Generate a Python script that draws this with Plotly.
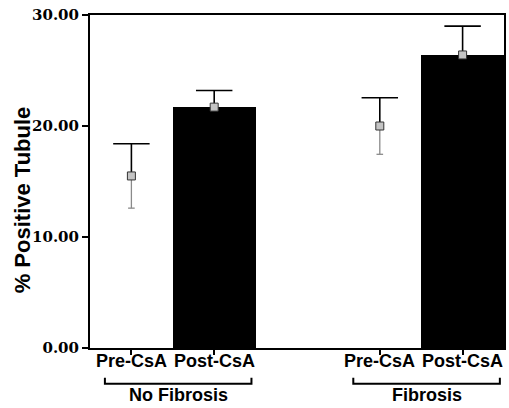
import plotly.graph_objects as go

groups = ["No Fibrosis", "Fibrosis"]
conditions = ["Pre-CsA", "Post-CsA"]
means = [15.5, 21.7, 20.0, 26.4]
errors = [2.9, 1.5, 2.55, 2.6]
bar_colors = ["white", "black", "white", "black"]
y_ticks = [0, 10, 20, 30]

positions = []
labels = []
for gi, g in enumerate(groups):
    for ci, c in enumerate(conditions):
        positions.append(gi * 3 + ci)
        labels.append(c)

fig = go.Figure()
fig.add_trace(go.Bar(
    x=positions, y=means, width=1.0,
    marker=dict(color=bar_colors, line=dict(width=0)),
    showlegend=False, hoverinfo="skip",
))

# upper error bars (black, wide caps)
ux, uy = [], []
cap = 0.22
for p, m, e in zip(positions, means, errors):
    ux += [p, p, None, p - cap, p + cap, None]
    uy += [m, m + e, None, m + e, m + e, None]
fig.add_trace(go.Scatter(x=ux, y=uy, mode="lines",
                         line=dict(color="black", width=1.6),
                         showlegend=False, hoverinfo="skip"))

# lower error bars visible only on white bars (gray, small caps)
lx, ly = [], []
lcap = 0.04
for p, m, e, c in zip(positions, means, errors, bar_colors):
    if c == "white":
        lx += [p, p, None, p - lcap, p + lcap, None]
        ly += [m, m - e, None, m - e, m - e, None]
fig.add_trace(go.Scatter(x=lx, y=ly, mode="lines",
                         line=dict(color="#8a8a8a", width=1.3),
                         showlegend=False, hoverinfo="skip"))

fig.add_trace(go.Scatter(
    x=positions, y=means, mode="markers",
    marker=dict(symbol="square", size=8, color="#c4c4c4",
                line=dict(color="#333333", width=1)),
    showlegend=False,
))

axis_font = dict(family="DejaVu Serif", size=15, color="black", weight="bold")
fig.update_layout(
    width=509, height=408,
    margin=dict(l=90, r=3, t=15, b=60),
    plot_bgcolor="white", paper_bgcolor="white",
    bargap=0,
    xaxis=dict(range=[-0.5, 4.5], tickvals=positions, ticktext=[""] * len(positions),
               ticks="outside", ticklen=5, tickwidth=1.5, tickcolor="black",
               showline=True, linecolor="black", linewidth=2, mirror=True,
               showgrid=False, zeroline=False),
    yaxis=dict(range=[0, 30], tickvals=y_ticks, tickformat=".2f",
               ticks="outside", ticklen=6, tickwidth=1.5, tickcolor="black",
               showline=True, linecolor="black", linewidth=2, mirror=True,
               showgrid=False, zeroline=False, tickfont=axis_font),
)

for p, lab in zip(positions, labels):
    fig.add_annotation(text=lab, xref="x", yref="paper", x=p, y=-0.039,
                       xanchor="center", yanchor="middle", showarrow=False,
                       font=dict(family="Liberation Sans", size=18, color="black", weight="bold"))

fig.add_annotation(text="% Positive Tubule", textangle=-90,
                   xref="paper", yref="paper", x=-0.163, y=0.445,
                   xanchor="center", yanchor="middle", showarrow=False,
                   font=dict(family="Liberation Sans", size=22, color="black", weight="bold"))

for gi, g in enumerate(groups):
    x0 = gi * 3 - 0.32
    x1 = gi * 3 + 1.45
    yl = -0.107
    yt = -0.089
    fig.add_shape(type="path", xref="x", yref="paper",
                  path=f"M {x0},{yt} L {x0},{yl} L {x1},{yl} L {x1},{yt}",
                  line=dict(color="black", width=2))
    fig.add_annotation(text=g, xref="x", yref="paper", x=(x0 + x1) / 2, y=-0.142,
                       xanchor="center", yanchor="middle", showarrow=False,
                       font=dict(family="Liberation Sans", size=18, color="black", weight="bold"))

fig.write_html("out.html")
